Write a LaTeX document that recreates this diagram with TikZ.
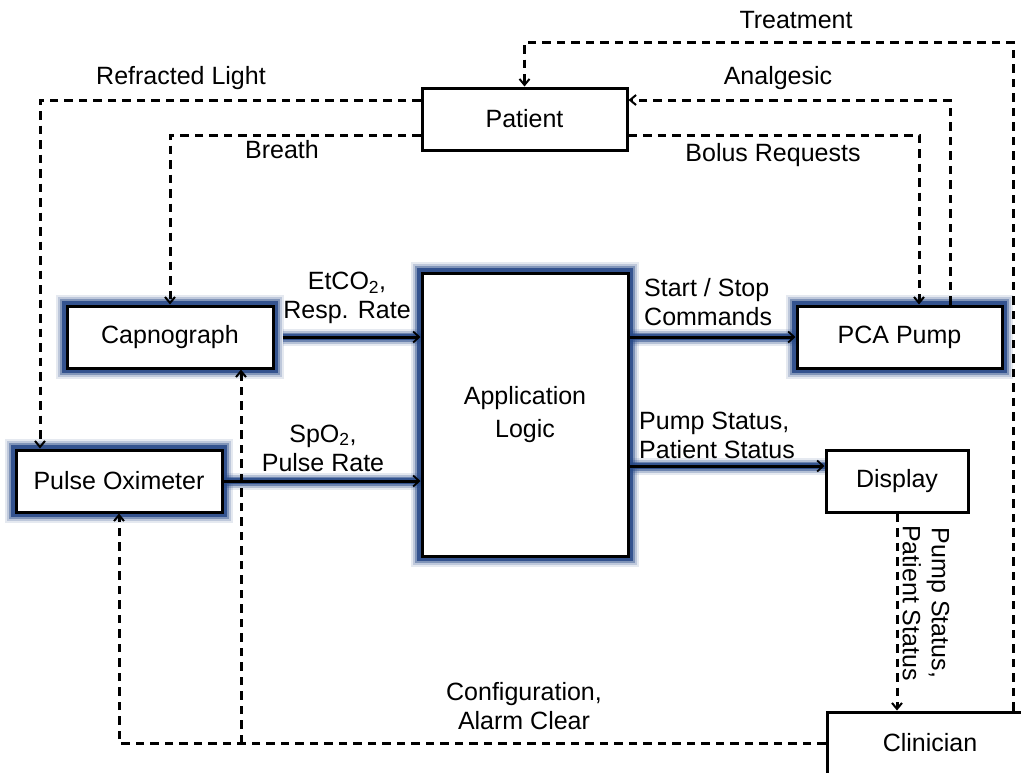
\documentclass[tikz,border=0pt]{standalone}
\usepackage{fontspec}
\setmainfont{Liberation Sans}
\usetikzlibrary{arrows.meta}
\definecolor{glowc}{RGB}{38,72,135}
\tikzset{
  every node/.style={font=\fontsize{25}{29}\selectfont},
  box/.style={draw, line width=3pt, fill=white, minimum height=62pt, inner sep=0pt},
  glowbox/.style={box,
    preaction={draw=glowc, line width=22pt, opacity=0.12},
    preaction={draw=glowc, line width=18pt, opacity=0.2},
    preaction={draw=glowc, line width=14pt, opacity=0.4},
    preaction={draw=glowc, line width=10pt, opacity=0.85}},
  flow/.style={line width=3pt, -{Straight Barb[length=6pt,width=11pt,line width=1.8pt]},
    preaction={draw=glowc, line width=17pt, opacity=0.12, -},
    preaction={draw=glowc, line width=13pt, opacity=0.25, -},
    preaction={draw=glowc, line width=9pt, opacity=0.5, -},
    preaction={draw=glowc, line width=6pt, opacity=0.8, -}},
  dflow/.style={line width=3pt, dash pattern=on 8.5pt off 6pt},
  tip/.style={-{Straight Barb[length=6pt,width=10pt,line width=2pt]}},
  lbl/.style={align=center, inner sep=0pt},
}
\begin{document}
\begin{tikzpicture}[x=1pt,y=-1pt]
\useasboundingbox (0,0) rectangle (1021,772);
\clip (0,0) rectangle (1021,772);
% nodes
\node[box, minimum width=205pt] (patient) at (524.5,119) {Patient};
\node[glowbox, minimum width=206pt] (capno) at (170,337) {Capnograph};
\node[glowbox, minimum width=206pt] (pulse) at (119,481) {Pulse Oximeter};
\node[glowbox, minimum width=206pt, minimum height=283pt, align=center] (app) at (525,414.5) {Application\\[4pt]Logic};
\node[glowbox, minimum width=205pt] (pca) at (899.5,337) {PCA Pump};
\node[box, minimum width=142pt] (display) at (897,481) {Display};
\node[box, minimum width=206pt] (clin) at (930,743) {Clinician};
% helper coordinates
\coordinate (yR) at (0,100);
\coordinate (yB) at (0,135);
\coordinate (xR) at (40,0);
\coordinate (xB) at (170,0);
\coordinate (yT) at (0,42);
\coordinate (xT) at (1013,0);
\coordinate (xA) at (950,0);
\coordinate (xBo) at (919,0);
\coordinate (yC) at (0,743);
\coordinate (xC) at (241,0);
\coordinate (yPS) at (0,466);
% solid flows
\draw[flow] ([xshift=8pt]capno.east) -- (app.west |- capno.east);
\draw[flow] (pulse.east) -- (app.west |- pulse.east);
\draw[flow] (app.east |- pca.west) -- (pca.west);
\draw[flow] (app.east |- yPS) -- (display.west |- yPS);
% dashed flows
\draw[dflow, tip] (patient.west |- yR) -- (xR |- yR) -- (xR |- pulse.north);
\draw[dflow, tip] (patient.west |- yB) -- (xB |- yB) -- (capno.north);
\draw[dflow, tip] (xT |- clin.north) -- (xT |- yT) -- (patient.north |- yT) -- (patient.north);
\draw[dflow, tip] (xA |- pca.north) -- (xA |- yR) -- (patient.east |- yR);
\draw[dflow, tip] (patient.east |- yB) -- (xBo |- yB) -- (xBo |- pca.north);
\draw[dflow, tip] (display.south) -- (display.south |- clin.north);
\draw[dflow, tip] (clin.west) -- (pulse.south |- yC) -- (pulse.south);
\draw[dflow, tip] (xC |- yC) -- (xC |- capno.south);
% labels
\node[lbl] (l1) at (347,298) {EtCO\textsubscript{2},\\Resp. Rate};
\node[lbl] (l2) at (323,448) {SpO\textsubscript{2},\\Pulse Rate};
\node[lbl, align=left, anchor=west] (l3) at (644,302) {Start / Stop\\Commands};
\node[lbl, align=left, anchor=west] (l4) at (639,435) {Pump Status,\\Patient Status};
\node[lbl] (l5) at (181,78) {Refracted Light};
\node[lbl] (l6) at (282,150) {Breath};
\node[lbl] (l7) at (796,20) {Treatment};
\node[lbl] (l8) at (778,78) {Analgesic};
\node[lbl] (l9) at (773,155) {Bolus Requests};
\node[lbl] (l10) at (524,706) {Configuration,\\Alarm Clear};
\node[lbl, rotate=-90] (l11) at (926,603) {Pump Status,\\Patient Status};
\end{tikzpicture}
\end{document}
